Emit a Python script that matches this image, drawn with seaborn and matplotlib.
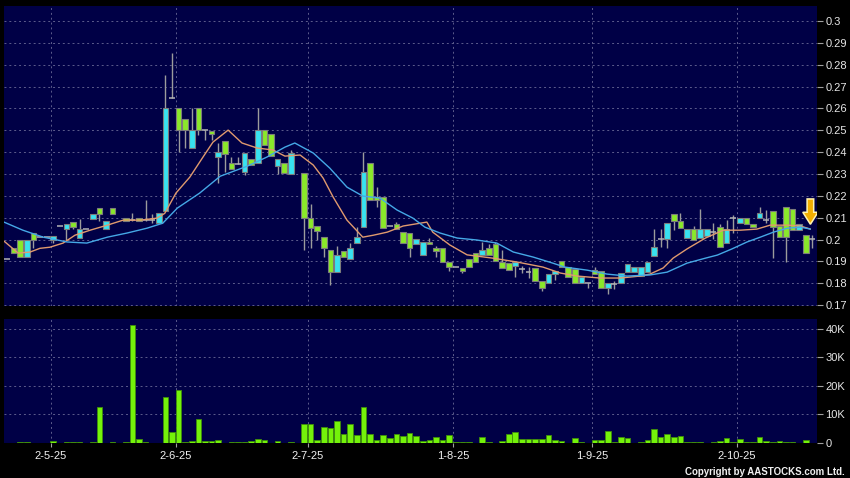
import numpy as np
import pandas as pd
import matplotlib
matplotlib.use("Agg")
import matplotlib.pyplot as plt
import seaborn as sns
from matplotlib.patches import FancyArrow

sns.set_style("dark")
plt.rcParams['font.family'] = ['Liberation Sans', 'DejaVu Sans']

nan = np.nan

# daily OHLC, one entry per trading-day slot (nan = no bar drawn)
opens = [0.191, 0.196, 0.200, 0.192, 0.203, 0.201, 0.201, 0.200, 0.206, 0.2048,
         0.208, 0.2007, 0.2048, 0.2094, 0.2145, 0.2048, 0.2145, nan, 0.2098, 0.209,
         0.2098, 0.209, 0.209, 0.2075, 0.213, 0.265, 0.260, 0.255, 0.2417, 0.260,
         0.250, 0.2497, 0.2377, 0.245, 0.235, 0.2345, 0.231, 0.2368, 0.235, 0.250,
         0.2483, 0.2336, 0.235, 0.230, nan, 0.2305, 0.2098, 0.2062, 0.2011, 0.1952,
         0.1851, 0.1947, 0.1911, 0.1984, 0.2057, 0.235, 0.2195, 0.2195, 0.2062, 0.207,
         0.2034, 0.203, 0.1979, 0.1929, 0.199, 0.1961, 0.1961, 0.1897, 0.1874, 0.187,
         0.1911, 0.1938, 0.1929, 0.1961, 0.198, 0.1897, 0.1893, 0.1879, 0.1865, 0.1851,
         0.187, 0.181, 0.180, 0.1842, 0.190, 0.1874, 0.1865, 0.180, 0.180, 0.186,
         0.1856, 0.1778, 0.1796, 0.180, 0.1851, 0.1851, 0.1833, 0.1851, 0.1925, 0.2002,
         0.2002, 0.2117, 0.2085, 0.2007, 0.2048, 0.2007, 0.2016, 0.2034, 0.2057, 0.1984,
         0.2098, 0.2075, 0.2098, 0.207, 0.2098, 0.209, 0.213, 0.2062, 0.2149, 0.214,
         0.2043, 0.202, 0.2002]
highs = [0.191, 0.196, 0.200, 0.200, 0.203, 0.201, 0.201, 0.2017, 0.206, 0.207,
         0.208, 0.2094, 0.2048, 0.2117, 0.2145, 0.2085, 0.2145, nan, 0.2098, 0.212,
         0.2098, 0.218, 0.2115, 0.212, 0.2753, 0.2853, 0.260, 0.255, 0.260, 0.260,
         0.250, 0.2497, 0.244, 0.245, 0.238, 0.238, 0.2396, 0.2368, 0.260, 0.250,
         0.2483, 0.2368, 0.235, 0.241, nan, 0.2305, 0.2163, 0.2062, 0.2011, 0.1952,
         0.197, 0.1947, 0.1984, 0.2057, 0.240, 0.235, 0.224, 0.2195, 0.2062, 0.208,
         0.2034, 0.203, 0.2002, 0.1989, 0.2005, 0.197, 0.1961, 0.1897, 0.1874, 0.187,
         0.1911, 0.1938, 0.199, 0.198, 0.199, 0.1952, 0.1893, 0.1897, 0.188, 0.1875,
         0.187, 0.181, 0.1842, 0.1856, 0.190, 0.1874, 0.1865, 0.1828, 0.180, 0.1875,
         0.1856, 0.180, 0.181, 0.1847, 0.1888, 0.1874, 0.1874, 0.1897, 0.2048, 0.2048,
         0.2075, 0.2117, 0.212, 0.2048, 0.2062, 0.214, 0.2048, 0.2075, 0.207, 0.209,
         0.2112, 0.2098, 0.2098, 0.207, 0.2149, 0.2135, 0.213, 0.2062, 0.2149, 0.214,
         0.207, 0.202, 0.202]
lows = [0.191, 0.194, 0.192, 0.192, 0.196, 0.201, 0.201, 0.1985, 0.206, 0.200,
        0.205, 0.2007, 0.2048, 0.2094, 0.2086, 0.2048, 0.2117, nan, 0.2085, 0.2085,
        0.2085, 0.2085, 0.2075, 0.2075, 0.213, 0.265, 0.240, 0.242, 0.2417, 0.248,
        0.2455, 0.2455, 0.2258, 0.231, 0.2323, 0.2345, 0.2295, 0.234, 0.235, 0.2432,
        0.2383, 0.230, 0.2305, 0.230, nan, 0.1952, 0.196, 0.200, 0.192, 0.1792,
        0.1851, 0.192, 0.1911, 0.1984, 0.2057, 0.218, 0.2149, 0.2052, 0.2062, 0.2048,
        0.1984, 0.192, 0.1979, 0.1929, 0.198, 0.192, 0.1897, 0.1856, 0.1874, 0.1847,
        0.1874, 0.1897, 0.1929, 0.1929, 0.190, 0.187, 0.186, 0.1828, 0.1845, 0.1825,
        0.181, 0.1765, 0.180, 0.1815, 0.1874, 0.1828, 0.180, 0.180, 0.1778, 0.1842,
        0.1778, 0.175, 0.1775, 0.180, 0.1851, 0.1851, 0.1833, 0.1851, 0.1925, 0.1966,
        0.196, 0.2043, 0.2052, 0.2007, 0.200, 0.2007, 0.2016, 0.2002, 0.1966, 0.1984,
        0.203, 0.2075, 0.207, 0.2057, 0.2098, 0.2075, 0.1915, 0.2011, 0.1897, 0.2043,
        0.2043, 0.1939, 0.196]
closes = [0.191, 0.194, 0.192, 0.200, 0.200, 0.201, 0.201, 0.2017, 0.206, 0.207,
          0.2057, 0.2048, 0.2048, 0.2117, 0.2117, 0.2085, 0.2117, nan, 0.2085, 0.209,
          0.2085, 0.209, 0.209, 0.212, 0.260, 0.265, 0.250, 0.250, 0.250, 0.250,
          0.250, 0.2483, 0.240, 0.239, 0.2323, 0.2345, 0.2396, 0.234, 0.250, 0.2432,
          0.2383, 0.2368, 0.2305, 0.2396, nan, 0.2098, 0.2052, 0.204, 0.1961, 0.1851,
          0.1929, 0.192, 0.1961, 0.2011, 0.2309, 0.218, 0.218, 0.2052, 0.2062, 0.2048,
          0.1984, 0.1961, 0.2002, 0.1989, 0.198, 0.1948, 0.1897, 0.1874, 0.1874, 0.1856,
          0.1874, 0.1897, 0.1952, 0.1929, 0.190, 0.187, 0.186, 0.1897, 0.1865, 0.1851,
          0.181, 0.1778, 0.1842, 0.1856, 0.1874, 0.1828, 0.180, 0.1828, 0.180, 0.1842,
          0.1778, 0.180, 0.1796, 0.1847, 0.1888, 0.1874, 0.1874, 0.1897, 0.1966, 0.2002,
          0.2075, 0.2085, 0.2052, 0.2048, 0.200, 0.2048, 0.2048, 0.2034, 0.1966, 0.2048,
          0.2098, 0.2098, 0.207, 0.2057, 0.212, 0.209, 0.2057, 0.2011, 0.2011, 0.2043,
          0.207, 0.1939, 0.2002]

# volume in thousands of shares
volume_k = [0, 0.1, 0.2, 0.5, 0.1, 0, 0, 0.7, 0, 0.4,
            0.4, 0.4, 0, 0.4, 12.6, 0, 0.4, nan, 0.4, 41.4,
            1.4, 0.5, 0.1, 0.1, 16.2, 3.9, 18.6, 0.2, 0.6, 8.4,
            0.7, 0.7, 1.1, 0.1, 0.5, 0.5, 0.3, 0.7, 1.5, 1.0,
            0.05, 0.7, 0.05, 0.3, nan, 6.6, 6.6, 1.1, 5.6, 5.3,
            7.8, 3.2, 6.6, 2.9, 12.6, 3.3, 1.1, 2.9, 1.8, 3.3,
            2.3, 3.5, 2.3, 0.7, 1.0, 2.2, 1.2, 2.7, 0.3, 0.3,
            0.2, 0.1, 2.1, 0.3, 0.1, 0.6, 3.2, 3.7, 1.4, 1.5,
            1.3, 1.4, 2.9, 0.9, 0.6, 0.05, 1.8, 0.4, 0.05, 1.2,
            1.1, 4.1, 0.4, 2.1, 1.8, 0.05, 0.4, 0.9, 4.9, 2.1,
            3.3, 2.1, 2.5, 0.3, 0.3, 0.3, 0.05, 0.4, 0.6, 1.6,
            0.4, 1.4, 0.4, 0.5, 2.2, 0.7, 0.4, 0.8, 0.4, 0.2,
            0.05, 1.1, 0.05]

# moving averages (slot, value)
ma10_x = [-0.45, 1.7, 3.5, 5.0, 6.5, 8.5, 10.3, 12.6, 15.2, 17.6, 20.2, 22.7, 23.9,
          25.6, 27.7, 29.7, 31.2, 33.5, 35.6, 37.9, 40.3, 42.1, 44.4, 46.4, 47.9,
          49.4, 51.5, 53.9, 55.5, 57.6, 60.0, 63.6, 64.5, 67.1, 69.7, 73.6, 77.3,
          81.2, 83.8, 86.4, 89.8, 92.9, 95.9, 97.4, 99.4, 100.9, 103.0, 105.8,
          108.5, 111.1, 113.6, 115.6, 118.2, 120.2, 121.7]
ma10_y = [0.1993, 0.1938, 0.1943, 0.196, 0.1965, 0.1984, 0.202, 0.2043, 0.2066, 0.2089,
          0.2089, 0.2098, 0.212, 0.2213, 0.2286, 0.2378, 0.2446, 0.2501, 0.2442, 0.2419,
          0.241, 0.2382, 0.2387, 0.2341, 0.2281, 0.2195, 0.2089, 0.2011, 0.202, 0.2034,
          0.2062, 0.208, 0.2034, 0.1975, 0.193, 0.1915, 0.1897, 0.1874, 0.1847, 0.1833,
          0.1824, 0.1824, 0.1833, 0.1842, 0.187, 0.1915, 0.1957, 0.2007, 0.2043, 0.2043,
          0.2048, 0.2066, 0.2066, 0.2062, 0.2048]
ma20_x = [-0.45, 2.4, 5.5, 9.1, 12.1, 15.2, 18.2, 21.2, 23.6, 25.8, 29.2, 32.3, 36.4,
          39.4, 42.1, 43.6, 46.4, 48.9, 51.5, 53.9, 56.5, 59.1, 61.5, 63.3, 65.6,
          68.2, 71.2, 74.2, 76.7, 79.7, 82.7, 84.5, 87.9, 90.9, 93.9, 97.4, 100.0,
          103.0, 105.8, 107.6, 109.8, 112.1, 114.1, 116.1, 118.2, 120.2, 121.7]
ma20_y = [0.208, 0.2043, 0.2011, 0.1989, 0.1984, 0.2011, 0.203, 0.2052, 0.2075, 0.2144,
          0.2213, 0.229, 0.2336, 0.2378, 0.2423, 0.2442, 0.2396, 0.2327, 0.224, 0.2199,
          0.219, 0.2135, 0.2098, 0.2057, 0.203, 0.2007, 0.1998, 0.1984, 0.1943, 0.192,
          0.1892, 0.1874, 0.186, 0.1842, 0.1833, 0.1838, 0.1851, 0.1892, 0.1915, 0.1929,
          0.1957, 0.1989, 0.2011, 0.2034, 0.2052, 0.2057, 0.2048]

month_labels = ['2-5-25', '2-6-25', '2-7-25', '1-8-25', '1-9-25', '2-10-25']
month_first = [7, 26, 46, 68, 89, 111]

price_ticks = np.round(np.arange(0.17, 0.3001, 0.01), 2)
vol_ticks = [0, 10, 20, 30, 40]
vol_labels = ['0', '10K', '20K', '30K', '40K']

df = pd.DataFrame({'open': opens, 'high': highs, 'low': lows,
                   'close': closes, 'vol': volume_k})
df['slot'] = np.arange(len(df))
df = df.dropna(subset=['open'])

navy = '#000046'
grid_c = '#5c5c8c'
cyan = '#38e2f0'
lime = '#8ae82a'
edge = '#7c7c7c'
wick = '#9c9c9c'

fig = plt.figure(figsize=(8.5, 4.78), dpi=100, facecolor='black')
ax = fig.add_axes([4 / 850, 1 - 306 / 478, 813 / 850, 300 / 478])
axv = fig.add_axes([4 / 850, 1 - 443 / 478, 813 / 850, 124 / 478])

grid_x = [m - 0.4 for m in month_first]

for a in (ax, axv):
    a.set_facecolor(navy)
    for s in a.spines.values():
        s.set_visible(False)
    a.set_xlim(-0.45, 122.7)
    for g in grid_x:
        a.axvline(g, color=grid_c, lw=0.7, ls=(0, (2, 3)), zorder=1)
    a.yaxis.tick_right()
    a.tick_params(axis='y', which='both', length=4, width=0.8, color='#a0a0a0',
                  labelcolor='#e6e6e6', labelsize=8, pad=2, right=True, left=False)
    a.grid(False)

# candles
ax.vlines(df.slot, df.low, df.high, color=wick, lw=1, zorder=2)
rise = df[df.close > df.open]
fall = df[df.close < df.open]
flat = df[df.close == df.open]
ax.bar(rise.slot, rise.close - rise.open, bottom=rise.open, width=0.85,
       color=cyan, edgecolor=edge, linewidth=0.8, zorder=3)
ax.bar(fall.slot, fall.open - fall.close, bottom=fall.close, width=0.85,
       color=lime, edgecolor=edge, linewidth=0.8, zorder=3)
ax.hlines(flat.close, flat.slot - 0.45, flat.slot + 0.45, color='#b4b4b4', lw=1.1, zorder=3)

sns.lineplot(x=ma10_x, y=ma10_y, ax=ax, color='#e09a6e', lw=1, zorder=4)
sns.lineplot(x=ma20_x, y=ma20_y, ax=ax, color='#45a8e6', lw=1, zorder=4)

for t in price_ticks:
    ax.axhline(t, color=grid_c, lw=0.7, ls=(0, (2, 3)), zorder=1)
ax.set_ylim(0.1696, 0.3069)
ax.set_yticks(price_ticks)
ax.set_yticklabels([f"{t:.2f}".rstrip('0').rstrip('.') for t in price_ticks])
ax.set_xticks([])
ax.set_xlabel('')
ax.set_ylabel('')

# latest-signal arrow
ax.add_patch(FancyArrow(121.7, 0.2186, 0, -0.0116, width=1.0, head_width=2.3,
                        head_length=0.0055, length_includes_head=True,
                        facecolor='#f2ae00', edgecolor='#fff3b0', lw=1.1, zorder=6))

# volume
axv.bar(df.slot, df.vol, width=0.85, color='#74f20a', edgecolor='#3f8f0a',
        linewidth=0.6, zorder=3)
for t in vol_ticks[1:]:
    axv.axhline(t, color=grid_c, lw=0.7, ls=(0, (2, 3)), zorder=1)
axv.set_ylim(0, 43.5)
axv.set_yticks(vol_ticks)
axv.set_yticklabels(vol_labels)
axv.set_xticks(grid_x)
axv.set_xticklabels(month_labels)
axv.tick_params(axis='x', length=3, width=0.8, color='#a0a0a0', labelcolor='#f0f0f0',
                labelsize=8, pad=3, bottom=True)

fig.text(0.994, 0.0126, 'Copyright by AASTOCKS.com Ltd.', ha='right', va='center',
         fontsize=7, color='#f0f0f0', fontweight='bold')

fig.savefig('out.png', dpi=100, facecolor='black')
